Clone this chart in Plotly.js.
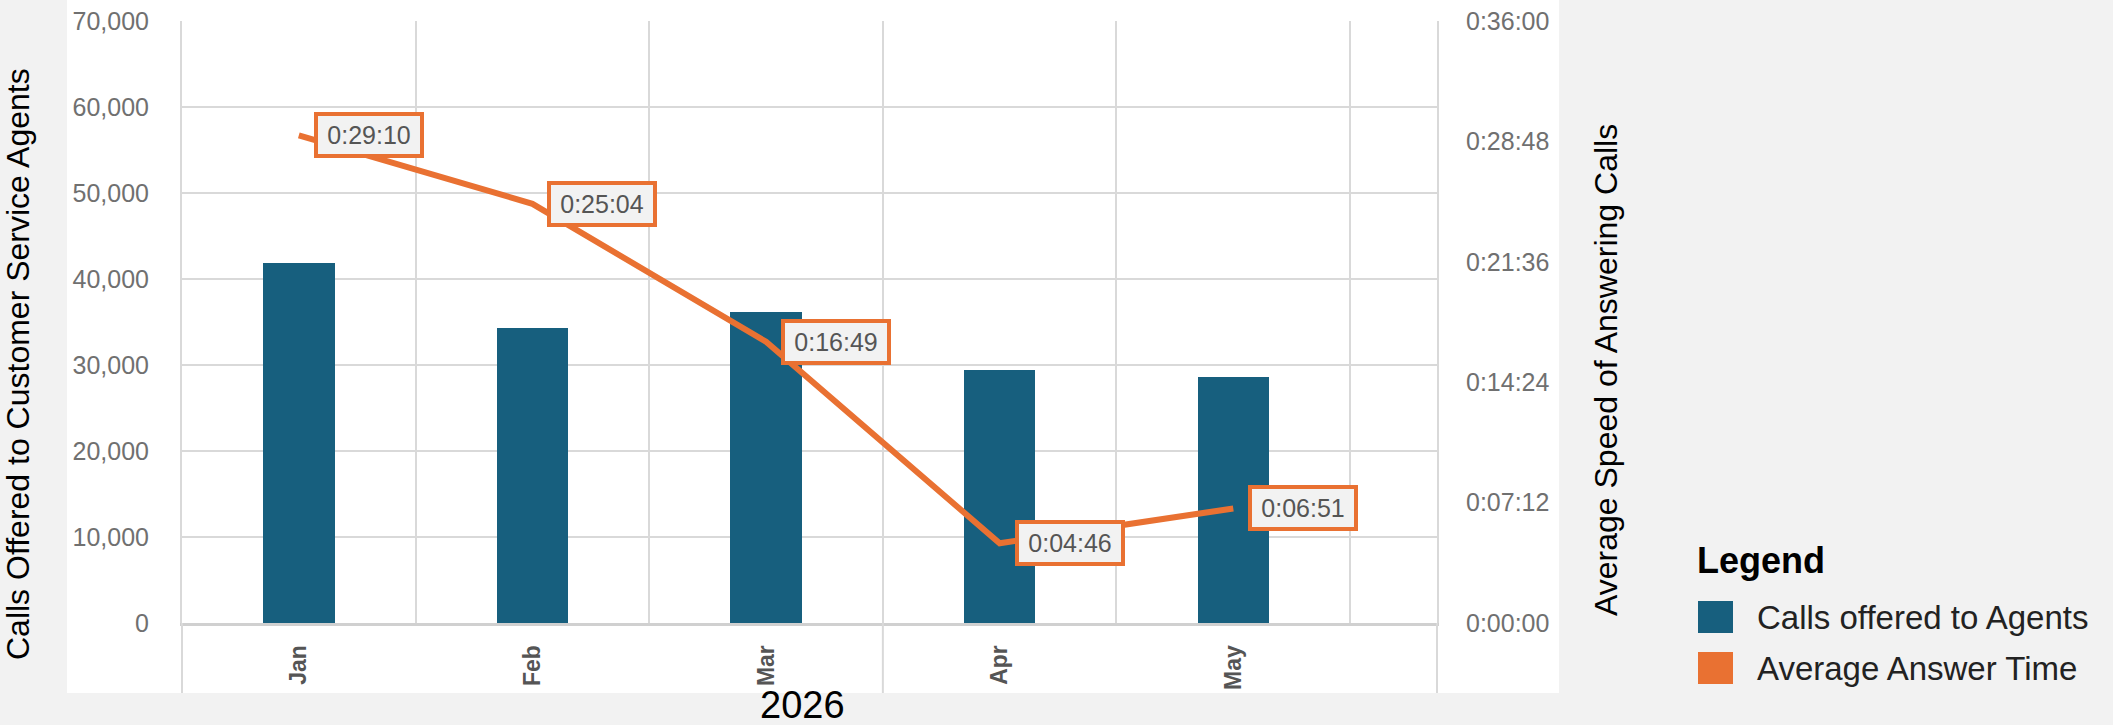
<!DOCTYPE html>
<html>
<head>
<meta charset="utf-8">
<script src="https://cdn.plot.ly/plotly-3.0.1.min.js"></script>
<style>
  html, body { margin: 0; padding: 0; background: #f2f2f2; }
  #chart { width: 2113px; height: 725px; }
</style>
</head>
<body>
<div id="chart"></div>
<script>
// ---------------- data ----------------
const months = ["Jan", "Feb", "Mar", "Apr", "May"];
const callsOffered = [41900, 34300, 36200, 29400, 28600];
const answerTimes = ["0:29:10", "0:25:04", "0:16:49", "0:04:46", "0:06:51"];
const leftTickValues = [0, 10000, 20000, 30000, 40000, 50000, 60000, 70000];
const rightTickLabels = ["0:00:00", "0:07:12", "0:14:24", "0:21:36", "0:28:48", "0:36:00"];
const seriesNames = ["Calls offered to Agents", "Average Answer Time"];
const leftAxisTitle = "Calls Offered to Customer Service Agents";
const rightAxisTitle = "Average Speed of Answering Calls";
const xAxisTitle = "2026";
const legendTitle = "Legend";

// ---------------- helpers ----------------
function toSeconds(s) {
  const p = s.split(":").map(Number);
  return p[0] * 3600 + p[1] * 60 + p[2];
}
const answerSeconds = answerTimes.map(toSeconds);
const rightTickValues = rightTickLabels.map(toSeconds);

const W = 2113, H = 725;
const M = { l: 182, r: W - 1437, t: 21, b: H - 623 };
const PW = W - M.l - M.r, PH = H - M.t - M.b;
const px = x => (x - M.l) / PW;          // pixel -> paper x
const py = y => (H - M.b - y) / PH;      // pixel -> paper y

const BLUE = "#175F7E";
const ORANGE = "#E97132";
const GRID = "#d9d9d9";
const FONT = "Liberation Sans, Arial, sans-serif";

// ---------------- traces ----------------
const bars = {
  type: "bar",
  x: months,
  y: callsOffered,
  name: seriesNames[0],
  width: 0.306,
  marker: { color: BLUE, line: { width: 0 } },
  yaxis: "y",
  hoverinfo: "x+y"
};
const line = {
  type: "scatter",
  mode: "lines",
  x: months,
  y: answerSeconds,
  name: seriesNames[1],
  line: { color: ORANGE, width: 6 },
  yaxis: "y2",
  text: answerTimes,
  hoverinfo: "x+text"
};

// ---------------- annotations ----------------
const annotations = [];
months.forEach((m, i) => {
  annotations.push({
    x: m, y: answerSeconds[i], xref: "x", yref: "y2",
    text: answerTimes[i], showarrow: false,
    xanchor: "left", yanchor: "middle", xshift: 15,
    font: { family: FONT, size: 25, color: "#555555" },
    bgcolor: "#f2f2f2", bordercolor: ORANGE, borderwidth: 4, borderpad: 1,
    width: 100, height: 36
  });
});
annotations.push({
  xref: "paper", yref: "paper", x: px(18), y: py(364),
  text: leftAxisTitle, textangle: -90, showarrow: false,
  xanchor: "center", yanchor: "middle",
  font: { family: FONT, size: 32, color: "#000000" }
});
annotations.push({
  xref: "paper", yref: "paper", x: px(1606), y: py(370),
  text: rightAxisTitle, textangle: -90, showarrow: false,
  xanchor: "center", yanchor: "middle",
  font: { family: FONT, size: 32, color: "#000000" }
});
annotations.push({
  xref: "paper", yref: "paper", x: px(802), y: py(705),
  text: xAxisTitle, showarrow: false,
  xanchor: "center", yanchor: "middle",
  font: { family: FONT, size: 38, color: "#000000" }
});
// custom legend
annotations.push({
  xref: "paper", yref: "paper", x: px(1695), y: py(560),
  text: "<b>" + legendTitle + "</b>", showarrow: false,
  xanchor: "left", yanchor: "middle",
  font: { family: FONT, size: 36, color: "#000000" }
});
const legendRows = [617, 668];
const legendColors = [BLUE, ORANGE];
seriesNames.forEach((n, i) => {
  annotations.push({
    xref: "paper", yref: "paper", x: px(1755), y: py(legendRows[i]),
    text: n, showarrow: false, xanchor: "left", yanchor: "middle",
    font: { family: FONT, size: 33, color: "#222222" }
  });
});

// ---------------- shapes ----------------
const shapes = [
  { type: "rect", xref: "paper", yref: "paper", layer: "below",
    x0: px(67), x1: px(1559), y0: py(693), y1: py(0),
    fillcolor: "#ffffff", line: { width: 0 } },
  { type: "line", xref: "paper", yref: "paper", x0: px(182), x1: px(182), y0: py(623), y1: py(693),
    line: { color: GRID, width: 2 } },
  { type: "line", xref: "paper", yref: "paper", x0: px(1437), x1: px(1437), y0: py(623), y1: py(693),
    line: { color: GRID, width: 2 } },
  { type: "line", xref: "x", yref: "paper", x0: 2.5, x1: 2.5, y0: py(623), y1: py(693),
    line: { color: GRID, width: 2 } }
];
seriesNames.forEach((n, i) => {
  shapes.push({
    type: "rect", xref: "paper", yref: "paper",
    x0: px(1698), x1: px(1733), y0: py(legendRows[i] + 16), y1: py(legendRows[i] - 16),
    fillcolor: legendColors[i], line: { width: 0 }
  });
});

// ---------------- layout ----------------
const layout = {
  width: W, height: H,
  margin: M,
  paper_bgcolor: "#f2f2f2",
  plot_bgcolor: "#ffffff",
  showlegend: false,
  font: { family: FONT },
  xaxis: {
    type: "category",
    range: [-0.5, 4.872],
    tickson: "boundaries",
    ticks: "",
    showgrid: true, gridcolor: GRID, gridwidth: 2,
    showline: true, linecolor: "#d0d0d0", linewidth: 3,
    tickangle: -90,
    ticklabelstandoff: 10,
    tickfont: { family: FONT, size: 23, color: "#555555", weight: "bold" },
    fixedrange: true
  },
  yaxis: {
    range: [0, 70000],
    tickvals: leftTickValues,
    tickformat: ",d",
    showgrid: true, gridcolor: GRID, gridwidth: 2,
    zeroline: false,
    showline: true, linecolor: GRID, linewidth: 2,
    ticks: "",
    ticklabelstandoff: 26,
    tickfont: { family: FONT, size: 25, color: "#707070" },
    fixedrange: true
  },
  yaxis2: {
    overlaying: "y", side: "right",
    range: [0, 2160],
    tickvals: rightTickValues,
    ticktext: rightTickLabels,
    showgrid: false, zeroline: false,
    showline: true, linecolor: GRID, linewidth: 2,
    ticks: "",
    ticklabelstandoff: 22,
    tickfont: { family: FONT, size: 25, color: "#707070" },
    fixedrange: true
  },
  bargap: 0,
  annotations: annotations,
  shapes: shapes
};

Plotly.newPlot("chart", [bars, line], layout, { displayModeBar: false, staticPlot: true });
</script>
</body>
</html>
